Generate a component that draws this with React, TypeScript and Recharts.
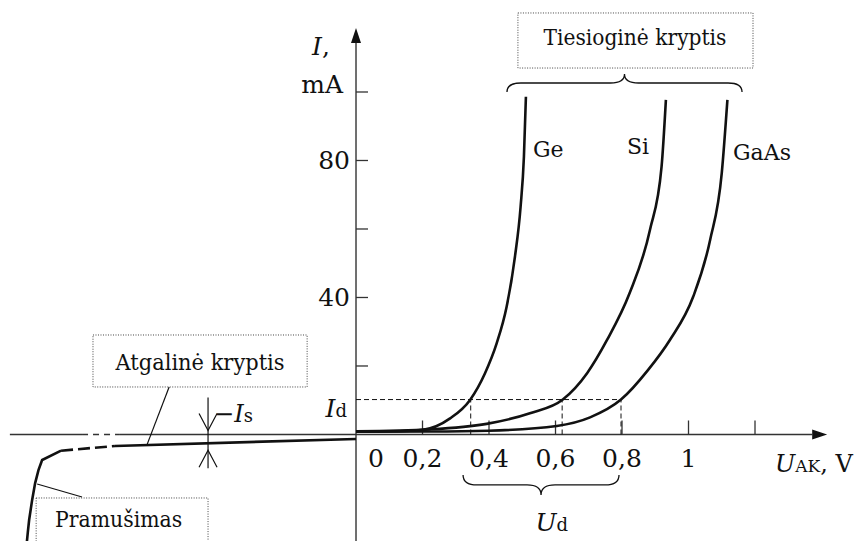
import React from 'react'
import {
  LineChart, Line, XAxis, YAxis, ReferenceLine, ReferenceDot, ReferenceArea
} from 'recharts'

// plot window in data units (U in V, I in mA)
const X_MIN = -1.0707
const X_MAX = 1.5248
const Y_MIN = -31.1
const Y_MAX = 126.86

// forward branches
const GE_U = [0, 0.132, 0.198, 0.283, 0.343, 0.388, 0.423, 0.453, 0.478, 0.495, 0.505, 0.511]
const GE_I = [0.9, 0.95, 1.3, 4.7, 10.1, 17.9, 26.6, 37.3, 51.9, 66.5, 81.1, 98.6]
const SI_U = [0, 0.223, 0.393, 0.523, 0.622, 0.695, 0.755, 0.823, 0.884, 0.919, 0.932]
const SI_I = [0.9, 1.5, 3.1, 6.2, 10.2, 17.9, 27.6, 41.3, 59.7, 78.2, 97.7]
const GAAS_U = [0, 0.223, 0.398, 0.604, 0.704, 0.797, 0.878, 0.944, 1.014, 1.065, 1.1, 1.117]
const GAAS_I = [0.8, 0.85, 1.1, 2.5, 5.0, 10.2, 18.8, 27.6, 40.2, 56.8, 76.3, 97.7]

// reverse branch
const REV_U = [-0.725, 0]
const REV_I = [-3.36, -1.3]
const REV_DASH_U = [-0.887, -0.725]
const REV_DASH_I = [-4.73, -3.36]
const BREAK_U = [-0.99, -0.987, -0.983, -0.974, -0.965, -0.955, -0.944, -0.887]
const BREAK_I = [-31.5, -28.5, -24.9, -19.1, -14.2, -10.4, -7.45, -4.73]

// axis ticks
const X_TICKS = [0.2, 0.4, 0.6, 0.8, 1.0, 1.2]
const X_LABEL_VALUES = [0, 0.2, 0.4, 0.6, 0.8, 1.0]
const X_LABELS = ['0', '0,2', '0,4', '0,6', '0,8', '1']
const Y_TICKS = [20, 40, 60, 80, 100]
const Y_LABEL_VALUES = [40, 80]
const Y_LABELS = ['40', '80']

// threshold markers
const I_D = 10.2
const U_D = [0.345, 0.62, 0.797]
const IS_U = -0.445
const IS_I = -2.56

const FONT = 'DejaVu Serif'
const INK = '#111'

const pts = (us: number[], is: number[]) => us.map((u, k) => ({ u, i: is[k] }))

const arrowShape = (p: any) => {
  const { x1, y1, x2, y2 } = p
  const len = Math.hypot(x2 - x1, y2 - y1)
  const ux = (x2 - x1) / len
  const uy = (y2 - y1) / len
  const L = 15
  const W = 5
  const bx = x2 - ux * L
  const by = y2 - uy * L
  return (
    <g>
      <line x1={x1} y1={y1} x2={bx} y2={by} stroke="#333" strokeWidth={1.4} />
      <path d={`M${x2},${y2} L${bx - uy * W},${by + ux * W} L${bx + uy * W},${by - ux * W} Z`} fill={INK} />
    </g>
  )
}

const braceShape = (h: number) => (p: any) => {
  const { x1, y1, x2 } = p
  const xm = (x1 + x2) / 2
  const q = 14
  const ym = y1 - h / 2
  const yc = y1 - h
  const d = `M${x1},${y1} Q${x1},${ym} ${x1 + q},${ym} L${xm - q},${ym} Q${xm},${ym} ${xm},${yc} ` +
    `Q${xm},${ym} ${xm + q},${ym} L${x2 - q},${ym} Q${x2},${ym} ${x2},${y1}`
  return <path d={d} fill="none" stroke={INK} strokeWidth={1.3} />
}

const isMarker = (p: any) => {
  const { x1, y1, y2 } = p
  return (
    <g stroke={INK} strokeWidth={1.2} fill="none">
      <line x1={x1} y1={y1 - 37} x2={x1} y2={y2 + 25} />
      <path d={`M${x1 - 9},${y1 - 21} L${x1},${y1 - 4} L${x1 + 9},${y1 - 21}`} />
      <path d={`M${x1 - 9},${y2 + 24} L${x1},${y2 + 7} L${x1 + 9},${y2 + 24}`} />
    </g>
  )
}

type NoteOpts = { dx?: number, dy?: number, anchor?: string, size?: number, len?: number }

const note = (key: string, u: number, i: number, content: React.ReactNode, o: NoteOpts = {}) => (
  <ReferenceDot key={key} x={u} y={i} r={0} ifOverflow="visible" shape={(p: any) => (
    <text x={p.cx + (o.dx ?? 0)} y={p.cy + (o.dy ?? 0)} textAnchor={o.anchor ?? 'start'}
      fontFamily={FONT} fontSize={o.size ?? 25} fill={INK}
      textLength={o.len} lengthAdjust={o.len ? 'spacingAndGlyphs' : undefined}>{content}</text>
  )} />
)

const curve = (key: string, data: { u: number, i: number }[], opts: { dash?: string, type?: any } = {}) => (
  <Line key={key} data={data} dataKey="i" type={opts.type ?? 'monotone'} stroke={INK} strokeWidth={2.6}
    strokeDasharray={opts.dash} dot={false} activeDot={false} isAnimationActive={false} />
)

export default function App() {
  return (
    <div style={{ position: 'absolute', left: 0, top: 0, width: 863, height: 541, background: '#fff' }}>
      <LineChart width={863} height={541} margin={{ top: 0, right: 0, bottom: 0, left: 0 }}>
        <XAxis type="number" dataKey="u" domain={[X_MIN, X_MAX]} allowDataOverflow hide />
        <YAxis type="number" dataKey="i" domain={[Y_MIN, Y_MAX]} allowDataOverflow hide />

        {/* axes */}
        <ReferenceLine ifOverflow="visible" segment={[{ x: -1.041, y: 0 }, { x: -0.824, y: 0 }]} stroke="#333" strokeWidth={1.4} />
        <ReferenceLine ifOverflow="visible" segment={[{ x: -0.824, y: 0 }, { x: -0.71, y: 0 }]} stroke="#333" strokeWidth={1.4} strokeDasharray="6 5" />
        <ReferenceLine ifOverflow="visible" segment={[{ x: -0.71, y: 0 }, { x: 1.417, y: 0 }]} shape={arrowShape} />
        <ReferenceLine ifOverflow="visible" segment={[{ x: 0, y: Y_MIN }, { x: 0, y: 118.7 }]} shape={arrowShape} />

        {X_TICKS.map(v => (
          <ReferenceLine key={`xt${v}`} ifOverflow="visible" segment={[{ x: v, y: 0 }, { x: v, y: 1 }]}
            shape={(p: any) => <line x1={p.x1} y1={p.y1} x2={p.x1} y2={p.y1 - 14} stroke="#333" strokeWidth={1.3} />} />
        ))}
        {Y_TICKS.map(v => (
          <ReferenceLine key={`yt${v}`} ifOverflow="visible" segment={[{ x: 0, y: v }, { x: 0.01, y: v }]}
            shape={(p: any) => <line x1={p.x1} y1={p.y1} x2={p.x1 + 12} y2={p.y1} stroke="#333" strokeWidth={1.3} />} />
        ))}
        {X_LABEL_VALUES.map((v, k) => note(`xl${k}`, v, 0, X_LABELS[k], { dx: v === 0 ? 20 : 0, dy: 33, anchor: 'middle' }))}
        {Y_LABEL_VALUES.map((v, k) => note(`yl${k}`, 0, v, Y_LABELS[k], { dx: -6, dy: 9, anchor: 'end' }))}

        {/* I_d / U_d guides */}
        <ReferenceLine ifOverflow="visible" segment={[{ x: 0, y: I_D }, { x: U_D[2], y: I_D }]} stroke={INK} strokeWidth={1} strokeDasharray="5 3" />
        {U_D.map(u => (
          <ReferenceLine key={`ud${u}`} ifOverflow="visible" segment={[{ x: u, y: 0 }, { x: u, y: I_D }]} stroke={INK} strokeWidth={1} strokeDasharray="5 3" />
        ))}

        {/* annotation boxes and pointers */}
        <ReferenceArea ifOverflow="visible" x1={-0.791} x2={-0.147} y1={13.87} y2={29.05} fill="none" stroke="#444" strokeWidth={1} strokeDasharray="1 1.5" />
        <ReferenceArea ifOverflow="visible" x1={-0.962} x2={-0.445} y1={-36} y2={-18.54} fill="none" stroke="#444" strokeWidth={1} strokeDasharray="1 1.5" />
        <ReferenceArea ifOverflow="visible" x1={0.487} x2={1.194} y1={107.0} y2={123.07} fill="none" stroke="#444" strokeWidth={1} strokeDasharray="1 1.5" />
        <ReferenceLine ifOverflow="visible" segment={[{ x: -0.562, y: 13.87 }, { x: -0.629, y: -3.1 }]} stroke={INK} strokeWidth={1.2} />
        <ReferenceLine ifOverflow="visible" segment={[{ x: -0.824, y: -18.25 }, { x: -0.959, y: -14.45 }]} stroke={INK} strokeWidth={1.2} />
        <ReferenceLine ifOverflow="visible" segment={[{ x: 0.454, y: 100.0 }, { x: 1.161, y: 100.0 }]} shape={braceShape(18)} />
        <ReferenceLine ifOverflow="visible" segment={[{ x: 0.322, y: -11.82 }, { x: 0.791, y: -11.82 }]} shape={braceShape(-20)} />
        <ReferenceLine ifOverflow="visible" segment={[{ x: IS_U, y: 0 }, { x: IS_U, y: IS_I }]} shape={isMarker} />

        {/* curves */}
        {curve('rev', pts(REV_U, REV_I))}
        {curve('revDash', pts(REV_DASH_U, REV_DASH_I), { dash: '12 5' })}
        {curve('break', pts(BREAK_U, BREAK_I), { type: 'linear' })}
        {curve('ge', pts(GE_U, GE_I))}
        {curve('si', pts(SI_U, SI_I))}
        {curve('gaas', pts(GAAS_U, GAAS_I))}

        {/* texts */}
        {note('ties', 0.839, 113.7, 'Tiesioginė kryptis', { anchor: 'middle', size: 23, len: 183 })}
        {note('atg', -0.469, 18.8, 'Atgalinė kryptis', { anchor: 'middle', size: 23, len: 169 })}
        {note('pram', -0.714, -27.0, 'Pramušimas', { anchor: 'middle', size: 23, len: 127 })}
        {note('ge', 0.532, 81.0, 'Ge', { size: 22 })}
        {note('si', 0.815, 81.9, 'Si', { size: 22 })}
        {note('gaas', 1.134, 80.1, 'GaAs', { size: 22 })}
        {note('iy', 0, 110.8, <><tspan fontStyle="italic">I</tspan>,</>, { dx: -44 })}
        {note('ma', 0, 99.7, 'mA', { dx: -13, anchor: 'end' })}
        {note('uak', 1.26, -10.95, <><tspan fontStyle="italic">U</tspan><tspan fontSize={17}>AK</tspan>, V</>, { size: 24 })}
        {note('id', 0, I_D, <><tspan fontStyle="italic">I</tspan><tspan fontSize={18}>d</tspan></>, { dx: -9, dy: 17, anchor: 'end' })}
        {note('ud', 0.589, -28.2, <><tspan fontStyle="italic">U</tspan><tspan fontSize={18}>d</tspan></>, { anchor: 'middle' })}
        {note('is', IS_U, 0, <>−<tspan fontStyle="italic">I</tspan><tspan fontSize={18}>s</tspan></>, { dx: 6, dy: -12, size: 24 })}
      </LineChart>
    </div>
  )
}
